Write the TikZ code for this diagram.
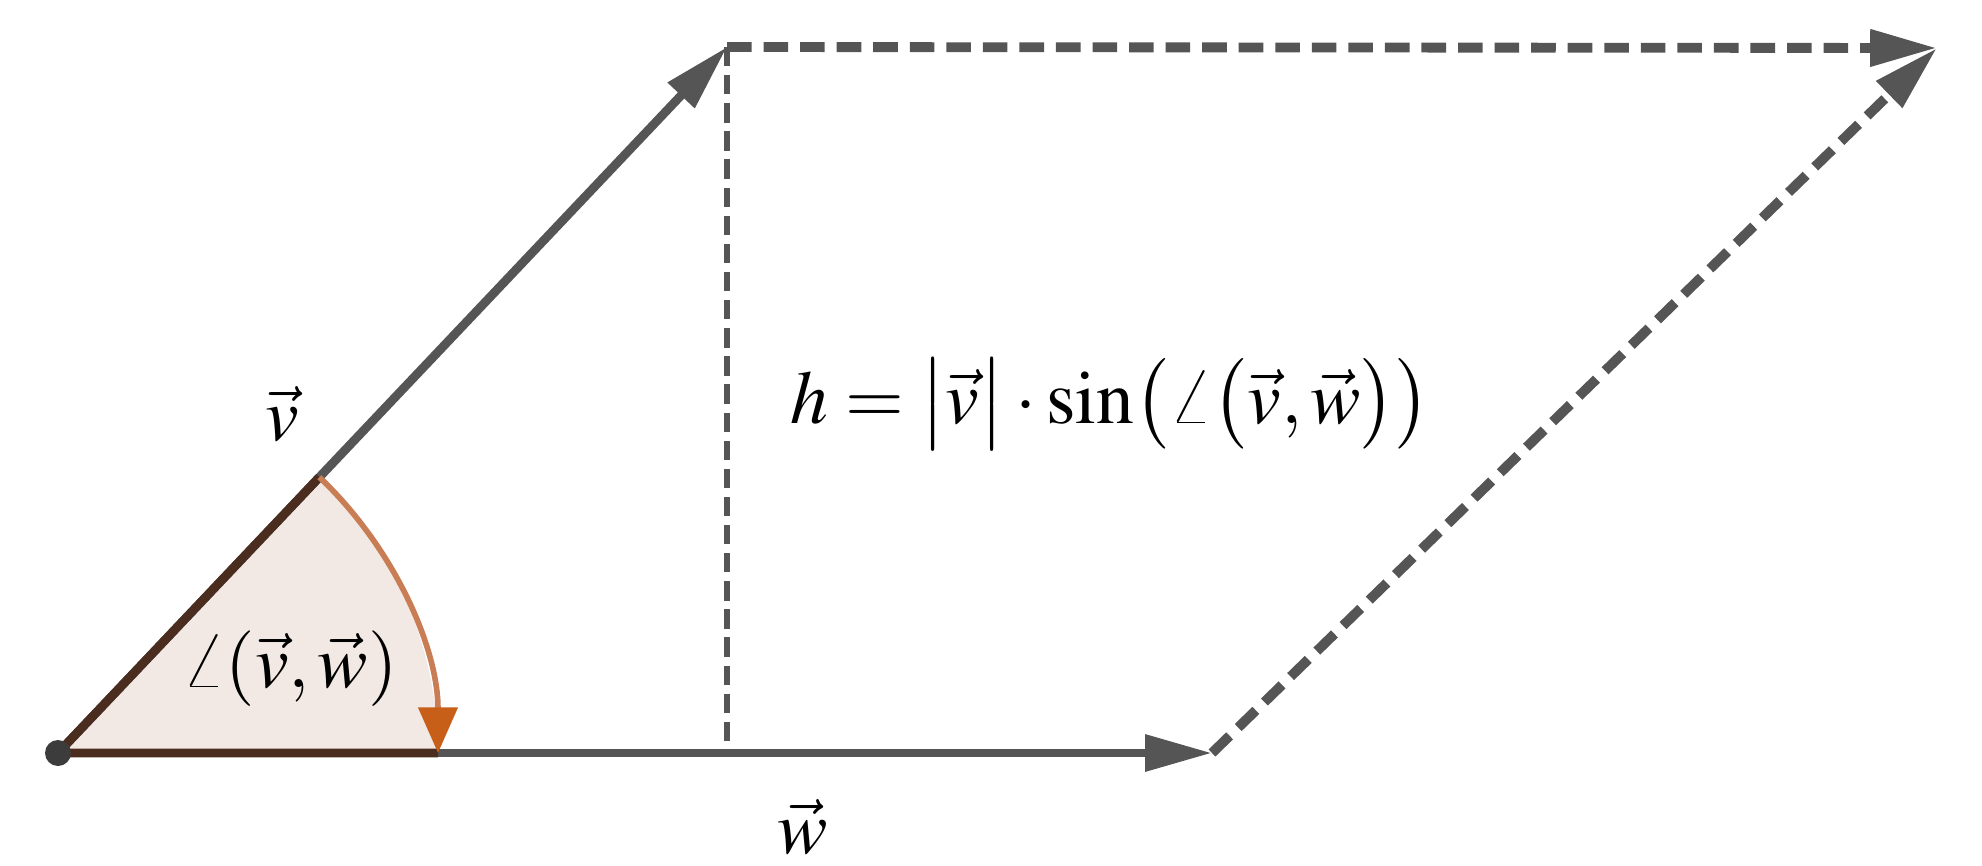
\documentclass[tikz,border=0pt]{standalone}
\usepackage{mathptmx}
\usetikzlibrary{arrows.meta}

\definecolor{vecgray}{RGB}{85,85,85}
\definecolor{dotgray}{RGB}{60,60,60}
\definecolor{anglefill}{RGB}{243,233,228}
\definecolor{anglebrown}{RGB}{75,45,32}
\definecolor{anglearc}{RGB}{200,125,85}
\definecolor{angletip}{RGB}{200,95,25}

\tikzset{
  vec/.style={draw=vecgray, line width=2.5pt, -{Triangle[length=19pt,width=10pt]}},
  dashvec/.style={draw=vecgray, line width=2.8pt, dash pattern=on 7pt off 3.4pt,
    -{Triangle[length=19pt,width=10pt]}},
  heightline/.style={draw=vecgray, line width=1.8pt, dash pattern=on 5.5pt off 2.5pt},
  lbl/.style={font=\fontsize{21.5}{26}\selectfont, inner sep=0pt, anchor=base},
}

\begin{document}
\begin{tikzpicture}[x=1cm,y=1cm]
        \useasboundingbox (0,0) rectangle (19.82,8.65);
        \coordinate (O) at (0.58,1.12);
        \coordinate (Wt) at (12.12,1.12);
        \coordinate (Vt) at (7.27,8.18);
        \coordinate (T) at (19.37,8.17);
        \coordinate (F) at (Vt |- O);
        \coordinate (Ws) at ([shift={(0:3.8)}]O);
        \coordinate (Vs) at ([shift={(46.54:3.8)}]O);
        % angle sector
        \fill[anglefill] (O) -- (Ws) arc[start angle=0,end angle=46.54,radius=3.8] -- cycle;
        % vectors and parallelogram
        \draw[heightline] (Vt) -- (F);
        \draw[vec] (O) -- (Vt);
        \draw[vec] (O) -- (Wt);
        \draw[dashvec] (Vt) -- (T);
        \draw[dashvec] (Wt) -- (T);
        \draw[anglebrown, line width=2.5pt] (Vs) -- (O) -- (Ws);
        \draw[anglearc, line width=1.6pt, -{Triangle[length=13pt,width=11pt,color=angletip]}]
          (Vs) arc[start angle=46.54,end angle=0,radius=3.8];
        \fill[dotgray] (O) circle (0.13);
        % labels
        \node[lbl] (vlabel) at (2.82,4.25) {$\vec{v}$};
        \node[lbl] (wlabel) at (8.03,0.12) {$\vec{w}$};
        \node[lbl] (anglelabel) at (2.90,1.78) {$\angle(\vec{v},\vec{w})$};
        \node[lbl, anchor=base west] (hlabel) at (7.90,4.42)
          {$h=\bigl|\vec{v}\bigr|\cdot\sin\bigl(\angle\bigl(\vec{v},\vec{w}\bigr)\bigr)$};
\end{tikzpicture}
\end{document}
